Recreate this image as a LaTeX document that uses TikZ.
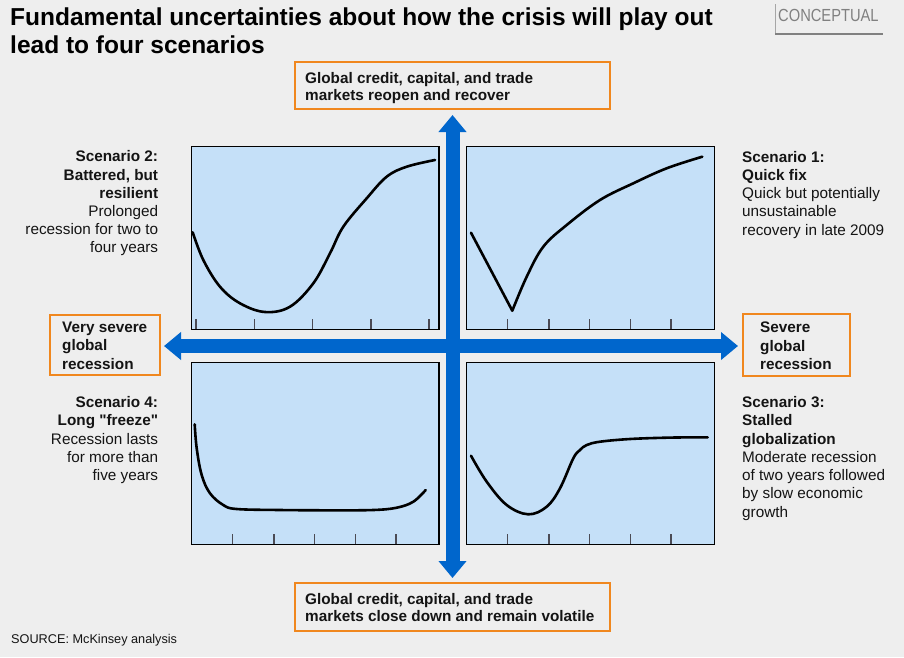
\documentclass[tikz,border=0pt]{standalone}
\usepackage{fontspec}
\setmainfont{Liberation Sans}[Ligatures=TeXOff]
\usetikzlibrary{arrows.meta,calc}

\definecolor{pagebg}{RGB}{238,238,238}
\definecolor{chartfill}{RGB}{197,224,248}
\definecolor{axisblue}{RGB}{0,102,204}
\definecolor{boxorange}{RGB}{240,135,30}
\definecolor{taggray}{RGB}{128,128,128}
\definecolor{tickgray}{RGB}{75,75,85}
\definecolor{ink}{RGB}{20,20,20}

\begin{document}
\begin{tikzpicture}[x=1pt, y=-1pt,
  chart/.style={draw=black, line width=1.3pt, fill=chartfill, inner sep=0pt,
    minimum width=247.5pt, minimum height=183pt, anchor=north west},
  chartline/.style={line width=2.6pt, line cap=round, line join=round, black},
  tickmark/.style={line width=1.2pt, tickgray},
  axisarrow/.style={line width=14pt, axisblue,
    {Triangle[width=27pt,length=17pt]}-{Triangle[width=27pt,length=17pt]}},
  optionbox/.style={draw=boxorange, line width=2pt, fill=pagebg, inner sep=0pt, anchor=north west},
  boxtext/.style={inner sep=0pt, align=left, anchor=north west, text=ink,
    font=\fontsize{15.3}{17.4}\selectfont\bfseries},
  sidetext/.style={inner sep=0pt, align=left, anchor=north west, text=ink,
    font=\fontsize{15.3}{18.5}\selectfont\bfseries},
  scenleft/.style={inner sep=0pt, align=right, anchor=north east, text=ink,
    font=\fontsize{15.3}{18.2}\selectfont},
  scenright/.style={inner sep=0pt, align=left, anchor=north west, text=ink,
    font=\fontsize{15.3}{18.2}\selectfont},
]
\fill[pagebg] (0,0) rectangle (904,657);
\useasboundingbox (0,0) rectangle (904,657);

% heading
\node[inner sep=0pt, anchor=north west, align=left, text=black,
  font=\fontsize{24.5}{28}\selectfont\bfseries] (title) at (10,7.6)
  {Fundamental uncertainties about how the crisis will play out\\lead to four scenarios};

% tag in the corner
\node[inner sep=0pt, anchor=base west, text=taggray, font=\fontsize{17.5}{20}\selectfont]
  (tag) at (778,21.7) {\scalebox{0.84}[1]{CONCEPTUAL}};
\draw[taggray!70, line width=0.8pt] (775.3,4.3) -- (775.3,34);
\draw[taggray, line width=2pt] (775,34) -- (883,34);

% four scenario charts
\node[chart] (tl) at (190.75,146) {};
\node[chart] (tr) at (466,146) {};
\node[chart, minimum height=182pt] (bl) at (190.75,362) {};
\node[chart, minimum height=182pt] (br) at (466,362) {};

% time ticks
\foreach \t in {196,254.3,312.7,371,429} \draw[tickmark] (\t,329) -- (\t,319);
\foreach \t in {507.7,549,589.3,630.7,671} \draw[tickmark] (\t,329) -- (\t,319);
\foreach \t in {232.7,274,314.3,355.7,396} \draw[tickmark] (\t,544) -- (\t,534);
\foreach \t in {507.7,549,589.3,630.7,671} \draw[tickmark] (\t,544) -- (\t,534);

% GDP paths
\draw[chartline] plot[smooth, tension=0.6] coordinates {(192.7,232.3) (203.3,260) (220,286.7)
  (240,303.3) (265,312) (290,306.7) (313.3,283.3) (330,253.3) (343.3,226.7) (366.7,198.3)
  (386.7,176.7) (406.7,166.7) (435,160)};
\draw[chartline] (471,232.7) -- plot[smooth, tension=0.6] coordinates {(512.3,310.7)
  (526.7,276.7) (543.3,246.7) (566.7,225) (600,200) (633.3,183.3) (666.7,168.3) (702.3,156.7)};
\draw[chartline] plot[smooth, tension=0.6] coordinates {(194.7,424.3) (196.7,448.3) (201.7,475)
  (210,493.3) (223.3,505) (236.7,509) (280,510) (330,510.3) (373.3,510) (396.7,507.7)
  (413.3,501.7) (425.7,490)};
\draw[chartline] plot[smooth, tension=0.6] coordinates {(471,455.7) (486.7,481.7) (506.7,505)
  (528.3,514.3) (546.7,506.7) (560,488.3) (573.3,458.3) (580,450) (586.7,445) (600,441.7)
  (630,439) (670,437.6) (707.7,437.3)};

% outcome boxes
\node[optionbox, minimum width=315pt, minimum height=47pt] (upframe) at (294,61) {};
\node[optionbox, minimum width=315pt, minimum height=48pt] (downframe) at (294,582) {};
\node[optionbox, minimum width=110pt, minimum height=60pt] (leftframe) at (49,314) {};
\node[optionbox, minimum width=107pt, minimum height=62pt] (rightframe) at (742,313) {};

% axes
\coordinate (hub) at (452,346);
\draw[axisarrow] ($(downframe.north)+(0,-4)$) -- ($(upframe.south)+(0,5)$);
\draw[axisarrow] ($(leftframe.east |- hub)+(3,0)$) -- ($(rightframe.west |- hub)+(-4,0)$);

\node[boxtext] (uptext) at (305,72.1) {Global credit, capital, and trade\\markets reopen and recover};
\node[boxtext] (downtext) at (305,592.8) {Global credit, capital, and trade\\markets close down and remain volatile};
\node[sidetext] (lefttext) at (62,321.3) {Very severe\\global\\recession};
\node[sidetext] (righttext) at (760,322) {Severe\\global\\recession};

% scenario descriptions
\node[scenleft] (s2) at (158.3,150.6) {\textbf{Scenario 2:}\\\textbf{Battered, but}\\\textbf{resilient}\\Prolonged\\recession for two to\\four years};
\node[scenright] (s1) at (742,151) {\textbf{Scenario 1:}\\\textbf{Quick fix}\\Quick but potentially\\unsustainable\\recovery in late 2009};
\node[scenleft] (s4) at (158.3,396.5) {\textbf{Scenario 4:}\\\textbf{Long "freeze"}\\Recession lasts\\for more than\\five years};
\node[scenright] (s3) at (742,396.5) {\textbf{Scenario 3:}\\\textbf{Stalled}\\\textbf{globalization}\\Moderate recession\\of two years followed\\by slow economic\\growth};

% footnote
\node[inner sep=0pt, anchor=base west, text=ink, font=\fontsize{12.7}{15}\selectfont]
  (source) at (11,643) {SOURCE: McKinsey analysis};
\end{tikzpicture}
\end{document}
